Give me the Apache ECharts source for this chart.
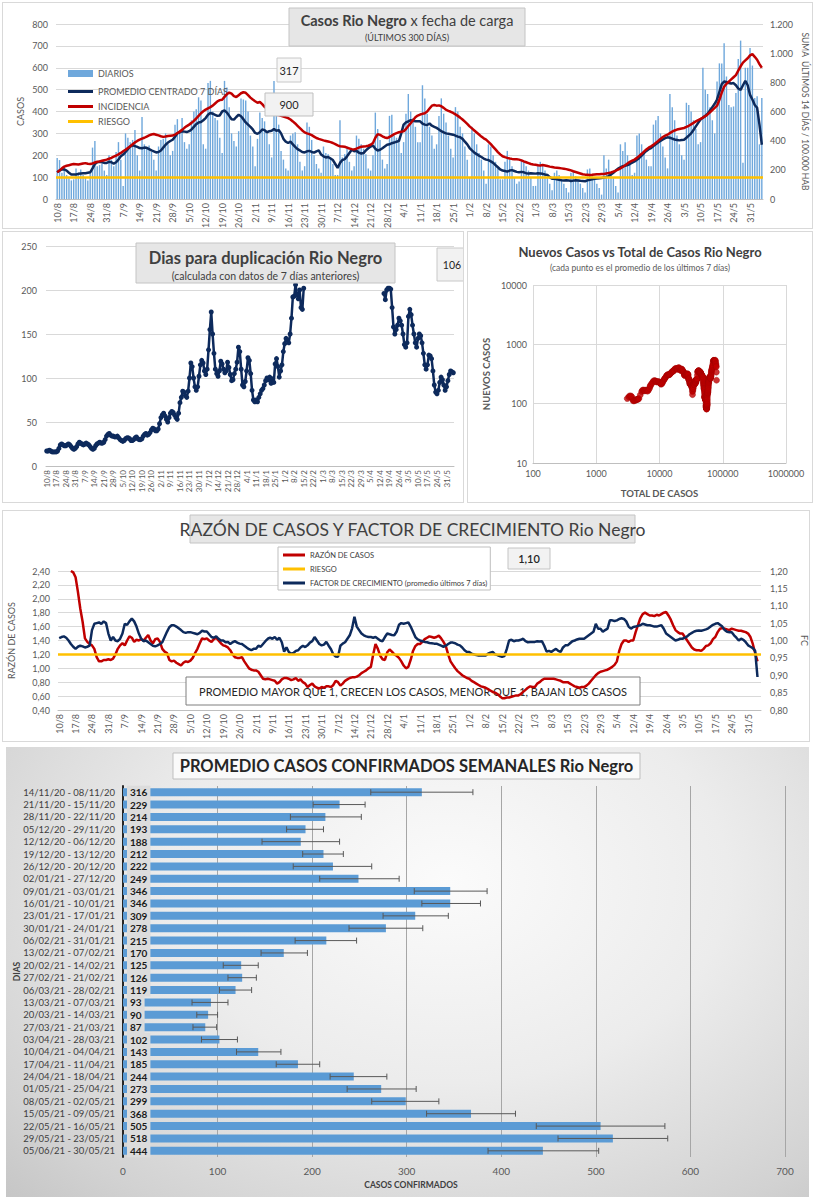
<!DOCTYPE html>
<html><head><meta charset="utf-8">
<script src="https://cdn.jsdelivr.net/npm/echarts@6/dist/echarts.min.js"></script>
<style>
body{margin:0;background:#fff;width:816px;height:1200px;position:relative;overflow:hidden;font-family:Lato}
.p{position:absolute;outline:1px solid #d9d9d9;background:#fff}
#c5{background:radial-gradient(ellipse at 55% 30%,#fbfbfb 0%,#ececec 45%,#d2d2d2 85%,#c6c6c6 100%);outline:none}
</style></head><body>
<div id="c1" class="p" style="left:3px;top:3px;width:809px;height:225px"></div>
<div id="c2" class="p" style="left:3px;top:232px;width:460px;height:270px"></div>
<div id="c3" class="p" style="left:468px;top:232px;width:344px;height:270px"></div>
<div id="c4" class="p" style="left:3px;top:511px;width:806px;height:230px"></div>
<div id="c5" class="p" style="left:6px;top:747px;width:803px;height:450px"></div>
<script>
// ---------- DATA ----------
const FECHA_INICIO = [2020, 7, 10];   // 10/8/2020
const N_DIAS = 300;
const DIAS = [];
for (let i = 0; i < N_DIAS; i++) { const d = new Date(Date.UTC(FECHA_INICIO[0], FECHA_INICIO[1], FECHA_INICIO[2] + i)); DIAS.push(d.getUTCDate() + '/' + (d.getUTCMonth() + 1)); }

const DIARIOS = [
188,178,120,150,110,95,85, 90,140,120,135,110,100,85, 120,235,265,150,155,160,130, 110,200,180,150,215,260,180,
60,300,280,260,270,315,200, 130,375,250,230,245,215,180, 130,240,270,275,300,250,200, 220,340,365,310,370,260,230,
250,360,400,410,465,450,250, 230,530,540,400,370,360,280, 210,540,510,420,300,265,240, 310,460,455,450,400,290,240,
150,275,395,370,355,300,250, 190,540,460,340,220,180,140, 130,290,300,305,250,170,130, 150,350,330,270,200,160,140,
120,240,210,205,190,160,110, 110,360,190,205,240,170,130, 150,290,275,250,230,205,140, 130,200,395,320,270,180,140,
160,380,385,290,280,260,210, 260,390,480,400,370,330,260, 260,520,460,390,330,290,230, 250,380,460,390,350,290,230,
190,420,400,330,300,240,180, 100,330,300,250,210,180,130, 70,250,240,200,170,140,90, 90,170,220,180,150,100,70,
80,180,170,150,130,100,60, 60,160,170,160,130,100,70, 40,120,130,110,90,70,50, 30,120,125,105,90,70,50,
30,135,140,105,90,70,50, 20,200,140,180,110,95,60, 30,250,220,260,200,160,110, 120,290,300,250,220,180,150,
150,340,360,380,300,240,190, 140,480,420,360,290,250,200, 180,440,430,400,360,320,250, 260,600,500,480,420,360,300,
537,620,620,712,560,430,420, 423,485,640,724,166,600,600, 690,610,462,470,250,462];

const PROMEDIO = [
122,130,135,135,130,120,112, 112,112,115,117,118,118,120, 122,140,160,168,170,168,165, 165,170,168,162,168,180,195,
203,215,228,240,245,242,238, 233,232,235,234,228,222,218, 213,215,222,235,248,258,265, 271,285,300,305,310,308,306,
310,318,330,342,350,352,360, 370,385,393,390,385,380,382, 400,405,395,380,365,363,375, 385,378,365,350,340,330,318,
302,298,305,318,315,305,310, 312,320,312,315,300,275,262, 256,262,250,238,228,222,215, 213,218,220,215,212,218,222,
203,195,190,192,185,178,160, 142,165,178,182,195,210,225, 218,220,212,208,210,222,232, 240,245,230,222,225,232,240,
248,250,255,258,262,265,300, 340,350,355,360,358,355,355, 355,345,340,338,345,335,330, 325,318,310,305,300,298,296,
294,290,285,282,275,262,250, 233,222,212,205,198,192,185, 180,178,172,165,155,145,135, 130,128,125,130,132,128,124,
122,124,122,118,117,118,117, 116,118,117,115,112,110,100, 93,92,90,88,86,85,86, 85,82,84,86,85,83,82,
81,85,88,90,92,94,95, 96,98,100,105,112,120,130, 139,145,150,152,155,160,166, 172,180,188,198,210,220,228,
233,242,250,258,266,272,278, 282,280,276,272,270,268,270, 271,280,290,300,315,332,348, 363,372,380,390,405,420,435,
455,490,525,537,535,530,528, 530,520,505,499,520,540,520, 476,455,430,417,340,248];

// suma últimos 14 días / 100.000 hab (eje derecho)
const INCIDENCIA = [
183,195,210,222,228,232,236, 240,238,236,240,244,246,242, 240,244,250,255,258,262,266, 270,276,282,290,298,306,316,
327,338,350,362,375,388,398, 407,414,420,428,436,442,446, 441,436,430,426,428,432,434, 435,442,452,462,474,488,500,
510,522,536,552,570,588,602, 613,622,630,640,655,670,678, 681,700,718,730,722,705,699, 712,725,732,728,712,695,682,
670,660,665,650,632,618,605, 590,582,578,575,570,565,560, 555,545,532,518,502,486,470, 457,450,445,438,428,418,412,
407,402,398,394,390,384,376, 368,362,360,358,352,346,342, 340,345,352,358,360,362,365, 372,384,420,445,440,430,422,
418,425,435,445,452,458,461, 464,480,500,520,540,560,572, 579,584,588,600,620,640,645, 640,642,636,625,612,604,598,
590,580,570,558,545,530,515, 498,484,470,456,442,428,416, 407,392,376,358,340,322,306, 293,287,282,278,275,273,272,
270,265,258,252,246,240,237, 235,232,230,233,230,226,222, 219,216,214,212,210,208,205, 201,196,190,185,180,175,170,
167,166,165,166,168,170,170, 171,172,175,178,182,188,194, 201,210,220,232,244,255,263, 270,282,296,310,325,340,352,
361,372,385,398,412,425,434, 441,452,462,470,476,480,484, 487,494,502,512,522,532,541, 549,558,568,580,595,610,625,
640,680,730,770,790,805,820, 835,850,880,910,935,950,965, 985,993,975,955,925,900];

const RIESGO_CASOS = 100;

const DUPLICACION = [
17,17,18,17,16,16,16, 16,17,20,24,25,24,23, 23,24,25,24,22,20,19, 20,22,25,27,26,25,24,
25,26,25,24,22,20,19, 20,23,25,26,27,26,26, 27,30,34,36,37,35,34, 34,33,33,34,32,30,29,
28,29,31,32,32,31,29, 29,30,32,33,31,30,30, 31,34,36,37,35,36,38, 41,43,42,40,40,42,48,
55,58,60,57,53,50,55, 60,62,61,58,55,53,60, 72,78,85,84,80,78,85, 100,117,113,100,90,86,90,
102,115,120,117,108,104,110, 132,155,175,150,128,110,105, 102,108,119,116,110,106,108, 118,112,104,97,98,105,110,
118,135,130,110,92,90,96, 108,123,120,105,86,75,73, 75,73,78,82,86,88,92, 97,100,98,101,94,99,95,
116,122,113,101,108,115,130, 139,145,143,140,150,168,192, 193,206,195,190,200,180,178, 202,null,null,null,null,null,null,
null,null,null,null,null,null,null, null,null,null,null,null,null,null, null,null,null,null,null,null,null, null,null,null,null,null,null,null,
null,null,null,null,null,null,null, null,null,null,null,null,null,null, null,null,null,null,null,null,null, null,null,null,196,189,200,202,
202,201,180,158,150,155,160, 168,165,160,150,138,135,140, 170,178,172,160,150,140,135, 145,150,148,140,128,115,110,
115,126,125,122,108,92,84, 82,86,95,101,98,92,86, 90,97,104,108,107,106];
const ULTIMO_DUPLICACION = '106';

const TOTAL_INICIAL = 2900;

const RAZON = [
null,null,null,null,null,2.40,2.38, 2.31,2.10,1.86,1.67,1.43,1.38,1.35, 1.33,1.28,1.16,1.10,1.10,1.12,1.12, 1.13,1.12,1.14,1.20,1.28,1.33,1.36,
1.33,1.40,1.46,1.44,1.38,1.41,1.40, 1.42,1.40,1.44,1.48,1.40,1.36,1.42, 1.43,1.38,1.28,1.24,1.22,1.12,1.10, 1.11,1.08,1.06,1.04,1.08,1.10,1.09,
1.11,1.15,1.22,1.28,1.36,1.43,1.42, 1.43,1.40,1.38,1.42,1.44,1.40,1.36, 1.33,1.32,1.30,1.26,1.20,1.16,1.15, 1.15,1.16,1.10,1.05,1.00,0.98,0.97,
0.97,0.95,0.90,0.85,0.84,0.85,0.84, 0.83,0.82,0.78,0.80,0.84,0.86,0.86, 0.85,0.83,0.84,0.86,0.82,0.84,0.80, 0.78,0.73,0.76,0.78,0.74,0.72,0.71,
0.73,0.72,0.74,0.74,0.73,0.76,0.82, 0.80,0.75,0.78,0.82,0.84,0.86,0.87, 0.87,0.88,0.90,0.93,0.95,0.97,1.00, 1.02,1.20,1.35,1.28,1.18,1.13,1.12,
1.23,1.27,1.24,1.20,1.18,1.15,1.10, 1.04,1.00,1.02,1.12,1.25,1.32,1.35, 1.35,1.38,1.42,1.44,1.46,1.45,1.44, 1.45,1.47,1.43,1.38,1.32,1.20,1.10,
1.05,1.00,0.96,0.93,0.90,0.88,0.86, 0.85,0.82,0.80,0.78,0.76,0.74,0.73, 0.72,0.70,0.68,0.66,0.65,0.63,0.60, 0.57,0.57,0.58,0.58,0.59,0.60,0.61,
0.61,0.63,0.66,0.69,0.72,0.74,0.73, 0.73,0.78,0.80,0.83,0.85,0.85,0.85, 0.85,0.85,0.84,0.83,0.82,0.80,0.80, 0.80,0.78,0.76,0.74,0.73,0.72,0.73,
0.73,0.75,0.78,0.82,0.86,0.90,0.93, 0.95,0.96,0.97,0.98,1.00,1.02,1.05, 1.10,1.25,1.35,1.40,1.40,1.38,1.40, 1.40,1.52,1.62,1.72,1.78,1.80,1.78,
1.76,1.76,1.75,1.77,1.76,1.78,1.80, 1.81,1.76,1.70,1.62,1.55,1.52,1.50, 1.50,1.45,1.40,1.35,1.30,1.27,1.26, 1.26,1.25,1.28,1.32,1.33,1.36,1.42,
1.45,1.52,1.57,1.58,1.57,1.56,1.55, 1.57,1.56,1.55,1.54,1.54,1.53,1.52, 1.50,1.45,1.35,1.22,1.10,null];

const FC = [
1.007,1.010,1.012,1.008,1.000,0.990,0.982, 0.976,0.982,0.985,0.983,0.980,0.982,0.985, 1.030,1.048,1.050,1.052,1.048,1.055,1.050, 1.020,1.000,1.010,1.000,0.998,1.005,1.020,
1.048,1.045,1.055,1.063,1.055,1.040,1.020, 1.005,0.998,1.000,0.995,0.990,0.985,0.983, 0.986,0.990,0.995,1.010,1.025,1.038,1.044, 1.044,1.040,1.035,1.030,1.024,1.022,1.024,
1.024,1.022,1.020,1.018,1.022,1.028,1.026, 1.026,1.018,1.010,1.008,1.012,1.005,1.000, 1.000,0.995,0.996,0.990,0.995,0.998,0.994, 0.991,0.990,0.985,0.980,0.975,0.972,0.976,
0.976,0.985,0.982,0.990,0.998,1.005,1.008, 1.005,1.010,1.002,1.008,0.995,0.968,0.980, 0.967,0.962,0.964,0.970,0.972,0.980,0.985, 0.981,0.986,0.994,0.998,1.010,1.000,0.990,
0.986,0.988,0.996,0.985,0.975,0.960,0.954, 0.953,0.985,0.991,0.995,1.005,1.015,1.035, 1.068,1.040,1.030,1.020,1.015,1.012,1.010, 1.010,1.008,1.010,1.005,1.000,0.998,1.010,
1.020,1.018,1.016,1.015,1.025,1.045,1.050, 1.048,1.050,1.052,1.040,1.025,1.010,1.003, 1.000,0.998,0.996,0.995,0.993,0.992,0.991, 0.991,0.988,0.985,0.982,0.985,0.990,0.994,
0.994,0.992,0.988,0.986,0.980,0.972,0.967, 0.967,0.962,0.960,0.958,0.957,0.957,0.957, 0.957,0.962,0.965,0.967,0.960,0.958,0.955, 0.953,0.955,0.975,1.000,1.002,0.998,1.000,
1.000,1.002,1.005,0.998,0.995,0.996,0.996, 0.996,0.998,0.997,0.998,0.985,0.968,0.970, 0.967,0.972,0.976,0.970,0.967,0.980,0.986, 0.986,0.992,0.998,1.000,1.003,1.005,1.005,
1.005,1.010,1.015,1.020,1.025,1.048,1.034, 1.034,1.025,1.030,1.034,1.058,1.058,1.056, 1.058,1.062,1.064,1.062,1.055,1.040,1.034, 1.039,1.040,1.042,1.044,1.048,1.046,1.044,
1.044,1.042,1.040,1.040,1.042,1.044,1.034, 1.020,1.015,1.010,1.005,1.000,1.002,1.005, 1.005,1.008,1.012,1.018,1.022,1.026,1.028, 1.029,1.028,1.030,1.032,1.035,1.040,1.045,
1.048,1.050,1.045,1.040,1.030,1.025,1.024, 1.024,1.015,1.008,1.000,1.005,1.002,0.995, 0.986,0.982,0.978,0.970,0.895,null];
const RIESGO_RAZON = 1.20;

const SEMANAS = ['14/11/20 - 08/11/20','21/11/20 - 15/11/20','28/11/20 - 22/11/20','05/12/20 - 29/11/20','12/12/20 - 06/12/20',
'19/12/20 - 13/12/20','26/12/20 - 20/12/20','02/01/21 - 27/12/20','09/01/21 - 03/01/21','16/01/21 - 10/01/21',
'23/01/21 - 17/01/21','30/01/21 - 24/01/21','06/02/21 - 31/01/21','13/02/21 - 07/02/21','20/02/21 - 14/02/21',
'27/02/21 - 21/02/21','06/03/21 - 28/02/21','13/03/21 - 07/03/21','20/03/21 - 14/03/21','27/03/21 - 21/03/21',
'03/04/21 - 28/03/21','10/04/21 - 04/04/21','17/04/21 - 11/04/21','24/04/21 - 18/04/21','01/05/21 - 25/04/21',
'08/05/21 - 02/05/21','15/05/21 - 09/05/21','22/05/21 - 16/05/21','29/05/21 - 23/05/21','05/06/21 - 30/05/21'];
const PROMEDIO_SEMANAL = [316,229,214,193,188,212,222,249,346,346,309,278,215,170,125,126,119,93,90,87,102,143,185,244,273,299,368,505,518,444];
const ERROR_BAJO = [262,201,177,173,147,190,180,208,308,316,275,239,182,146,106,111,102,73,78,74,83,120,162,219,237,263,321,437,460,386];
const ERROR_ALTO = [370,256,252,212,229,233,263,292,385,378,344,317,247,195,143,141,136,111,100,99,121,167,208,279,310,334,415,573,576,503];

// ---------- STYLE HELPERS ----------
const FONT = 'Lato';
const GRIS = '#595959';
const AZUL = '#0d2a5c', ROJO = '#c00000', AMARILLO = '#ffc000', CELESTE = '#6fa8dc';
function box(x, y, w, h, fill, stroke, z) {
  return {type: 'rect', z: z, shape: {x: x, y: y, width: w, height: h}, style: {fill: fill, stroke: stroke, lineWidth: 1}};
}
function txt(x, y, s, size, weight, color, z, rich) {
  const st = {text: s, x: 0, y: 0, fontSize: size, fontWeight: weight || 'normal', fontFamily: FONT, fill: color || '#404040',
    align: 'center', verticalAlign: 'middle', textAlign: 'center', textVerticalAlign: 'middle'};
  if (rich) st.rich = rich;
  return {type: 'text', z: z, x: x, y: y, style: st};
}
const miles = v => v >= 1000 ? Math.floor(v / 1000) + '.' + String(v % 1000).padStart(3, '0') : String(v);
const coma = v => Number(v).toFixed(2).replace('.', ',');
const dateAxis = (size) => ({
  type: 'category', data: DIAS, boundaryGap: true,
  axisLine: {lineStyle: {color: '#bfbfbf'}},
  axisTick: {interval: 6, lineStyle: {color: '#bfbfbf'}},
  axisLabel: {interval: 6, rotate: 90, fontSize: size, color: GRIS, fontFamily: FONT, margin: 4},
  splitLine: {show: false}
});
const R = {renderer: 'svg'};

// ---------- CHART 1 ----------
const c1 = echarts.init(document.getElementById('c1'), null, R);
c1.setOption({
  animation: false, textStyle: {fontFamily: FONT},
  grid: {left: 53, right: 49, top: 21, bottom: 29, outerBoundsMode: 'none'},
  legend: [
    {orient: 'vertical', left: 60, top: 61, itemWidth: 25, itemHeight: 7, itemGap: 6, selectedMode: false,
      textStyle: {fontSize: 9, color: GRIS, fontFamily: FONT}, data: [{name: 'DIARIOS', icon: 'rect'}]},
    {orient: 'vertical', left: 60, top: 79, itemWidth: 25, itemHeight: 3, itemGap: 6, selectedMode: false, icon: 'rect',
      textStyle: {fontSize: 9, color: GRIS, fontFamily: FONT}, data: ['PROMEDIO CENTRADO 7 DÍAS', 'INCIDENCIA', 'RIESGO']}
  ],
  xAxis: dateAxis(9),
  yAxis: [
    {type: 'value', min: 0, max: 800, interval: 100, name: 'CASOS', nameLocation: 'middle', nameGap: 31, nameRotate: 90, nameMoveOverlap: false,
      nameTextStyle: {fontSize: 9, color: GRIS, fontFamily: FONT},
      axisLabel: {fontSize: 9, color: GRIS, fontFamily: FONT, margin: 8},
      axisLine: {show: false}, axisTick: {show: false}, splitLine: {lineStyle: {color: '#d9d9d9'}}},
    {type: 'value', min: 0, max: 1200, interval: 200, position: 'right', name: 'SUMA  ÚLTIMOS 14 DÍAS / 100.000 HAB', nameMoveOverlap: false,
      nameLocation: 'middle', nameGap: 37, nameRotate: -90, nameTextStyle: {fontSize: 8.5, color: GRIS, fontFamily: FONT},
      axisLabel: {fontSize: 9, color: GRIS, fontFamily: FONT, margin: 7, formatter: miles},
      axisLine: {show: false}, axisTick: {show: false}, splitLine: {show: false}}
  ],
  series: [
    {name: 'DIARIOS', type: 'bar', data: DIARIOS, barCategoryGap: '40%', itemStyle: {color: CELESTE}, z: 2},
    {name: 'RIESGO', type: 'line', data: [], symbol: 'none', itemStyle: {color: AMARILLO}, lineStyle: {color: AMARILLO, width: 3}, z: 3,
      markLine: {silent: true, symbol: 'none', label: {show: false}, lineStyle: {color: AMARILLO, width: 2.5, type: 'solid'}, data: [{yAxis: RIESGO_CASOS}]}},
    {name: 'PROMEDIO CENTRADO 7 DÍAS', type: 'line', data: PROMEDIO, symbol: 'none', itemStyle: {color: AZUL}, lineStyle: {color: AZUL, width: 2.5}, z: 4},
    {name: 'INCIDENCIA', type: 'line', yAxisIndex: 1, data: INCIDENCIA, symbol: 'none', itemStyle: {color: ROJO}, lineStyle: {color: ROJO, width: 2.5}, z: 5}
  ],
  graphic: [
    box(286, 5, 236, 38, '#e6e6e6', '#c4c4c4', 20),
    txt(404, 17, '{b|Casos Rio Negro} {n|x fecha de carga}', 14.5, 'normal', '#404040', 21,
      {b: {fontSize: 14.5, fontWeight: 'bold', fill: '#404040', fontFamily: FONT}, n: {fontSize: 14.5, fill: '#404040', fontFamily: FONT}}),
    txt(404, 34, '(ÚLTIMOS 300 DÍAS)', 9, 'normal', '#404040', 21),
    box(274, 55, 24, 24, '#f7f7f7', '#c8c8c8', 20),
    txt(286, 67, '317', 11, 'normal', '#262626', 21),
    box(262, 90, 48, 23, '#f2f2f2', '#bfbfbf', 20),
    txt(286, 101.5, '900', 11, 'normal', '#262626', 21)
  ]
});

// ---------- CHART 2 ----------
const c2 = echarts.init(document.getElementById('c2'), null, R);
c2.setOption({
  animation: false, textStyle: {fontFamily: FONT},
  grid: {left: 43, right: 9, top: 14, bottom: 36, outerBoundsMode: 'none'},
  xAxis: dateAxis(8),
  yAxis: {type: 'value', min: 0, max: 250, interval: 50,
    axisLabel: {fontSize: 9, color: GRIS, fontFamily: FONT, margin: 9},
    axisLine: {show: false}, axisTick: {show: false}, splitLine: {lineStyle: {color: '#d9d9d9'}}},
  series: [{type: 'line', data: DUPLICACION, symbol: 'circle', symbolSize: 5, showSymbol: true, showAllSymbol: true, connectNulls: false,
    itemStyle: {color: AZUL}, lineStyle: {color: AZUL, width: 2.5}}],
  graphic: [
    box(133, 11, 259, 40, '#e6e6e6', '#c4c4c4', 20),
    txt(262.5, 26, 'Dias para duplicación Rio Negro', 16.5, 'bold', '#404040', 21),
    txt(262.5, 44, '(calculada con datos de 7 días anteriores)', 10.5, 'normal', '#404040', 21),
    box(434, 16, 30, 33, '#f2f2f2', '#c8c8c8', 20),
    txt(449, 32.5, ULTIMO_DUPLICACION, 10.5, 'normal', '#262626', 21)
  ]
});

// ---------- CHART 3 ----------
let acumulado = TOTAL_INICIAL;
const PUNTOS = DIARIOS.map((d, i) => { acumulado += d; return [acumulado, PROMEDIO[i]]; });
const c3 = echarts.init(document.getElementById('c3'), null, R);
const logLbl = v => String(Math.round(v));
c3.setOption({
  animation: false, textStyle: {fontFamily: FONT},
  grid: {left: 65, right: 26, top: 53, bottom: 39, outerBoundsMode: 'none'},
  xAxis: {type: 'log', logBase: 10, min: 100, max: 1000000, name: 'TOTAL DE CASOS', nameLocation: 'middle', nameGap: 25, nameMoveOverlap: false,
    nameTextStyle: {fontSize: 9.5, fontWeight: 'bold', color: GRIS, fontFamily: FONT},
    axisLabel: {fontSize: 9, color: GRIS, fontFamily: FONT, formatter: logLbl, margin: 6},
    axisLine: {lineStyle: {color: '#bfbfbf'}}, axisTick: {show: false}, splitLine: {show: true, lineStyle: {color: '#d9d9d9'}}},
  yAxis: {type: 'log', logBase: 10, min: 10, max: 10000, name: 'NUEVOS CASOS', nameLocation: 'middle', nameGap: 42, nameRotate: 90, nameMoveOverlap: false,
    nameTextStyle: {fontSize: 9.5, fontWeight: 'bold', color: GRIS, fontFamily: FONT},
    axisLabel: {fontSize: 9, color: GRIS, fontFamily: FONT, formatter: logLbl, margin: 6},
    axisLine: {show: false}, axisTick: {show: false}, splitLine: {show: true, lineStyle: {color: '#d9d9d9'}}},
  series: [{type: 'scatter', data: PUNTOS, symbolSize: 6, itemStyle: {color: ROJO, borderColor: '#a00000', borderWidth: 0.5}}],
  graphic: [
    txt(172, 20, 'Nuevos Casos vs Total de Casos Rio Negro', 13, 'bold', '#404040', 21),
    txt(172, 36, '(cada punto es el promedio de los últimos 7 días)', 8.5, 'normal', GRIS, 21)
  ]
});

// ---------- CHART 4 ----------
const c4 = echarts.init(document.getElementById('c4'), null, R);
c4.setOption({
  animation: false, textStyle: {fontFamily: FONT},
  grid: {left: 55, right: 48, top: 60, bottom: 31, outerBoundsMode: 'none'},
  legend: {orient: 'vertical', left: 275, top: 36, itemWidth: 22, itemHeight: 3, itemGap: 6, selectedMode: false, icon: 'rect',
    padding: [4, 3, 3, 5], borderColor: '#bfbfbf', borderWidth: 1, backgroundColor: '#ffffff',
    textStyle: {fontSize: 7.5, color: '#404040', fontFamily: FONT},
    data: ['RAZÓN DE CASOS', 'RIESGO', 'FACTOR DE CRECIMIENTO (promedio últimos 7 días)']},
  xAxis: dateAxis(9),
  yAxis: [
    {type: 'value', min: 0.4, max: 2.4, interval: 0.2, name: 'RAZÓN DE CASOS', nameLocation: 'middle', nameGap: 42, nameRotate: 90, nameMoveOverlap: false,
      nameTextStyle: {fontSize: 9, color: GRIS, fontFamily: FONT},
      axisLabel: {fontSize: 9, color: GRIS, fontFamily: FONT, formatter: coma, margin: 8},
      axisLine: {show: false}, axisTick: {show: false}, splitLine: {lineStyle: {color: '#d9d9d9'}}},
    {type: 'value', min: 0.8, max: 1.2, interval: 0.05, position: 'right', name: 'FC', nameLocation: 'middle', nameGap: 39, nameRotate: -90, nameMoveOverlap: false,
      nameTextStyle: {fontSize: 9, color: GRIS, fontFamily: FONT},
      axisLabel: {fontSize: 9, color: GRIS, fontFamily: FONT, formatter: coma, margin: 9},
      axisLine: {show: false}, axisTick: {show: false}, splitLine: {show: false}}
  ],
  series: [
    {name: 'RAZÓN DE CASOS', type: 'line', data: RAZON, symbol: 'none', itemStyle: {color: ROJO}, lineStyle: {color: ROJO, width: 2.5}, z: 3},
    {name: 'FACTOR DE CRECIMIENTO (promedio últimos 7 días)', type: 'line', yAxisIndex: 1, data: FC, symbol: 'none',
      itemStyle: {color: AZUL}, lineStyle: {color: AZUL, width: 2.5}, z: 4},
    {name: 'RIESGO', type: 'line', data: [], symbol: 'none', itemStyle: {color: AMARILLO}, lineStyle: {color: AMARILLO, width: 2.5}, z: 5,
      markLine: {silent: true, symbol: 'none', label: {show: false}, lineStyle: {color: AMARILLO, width: 2.5, type: 'solid'}, data: [{yAxis: RIESGO_RAZON}]}}
  ],
  graphic: [
    box(187, 4, 445, 28, '#e6e6e6', '#c4c4c4', 20),
    txt(409.5, 18, 'RAZÓN DE CASOS Y FACTOR DE CRECIMIENTO Rio Negro', 17.5, 'normal', '#404040', 21),
    box(505, 37, 42, 21, '#f2f2f2', '#c4c4c4', 20),
    txt(526, 47.5, '1,10', 11, '600', '#262626', 21),
    box(183, 166, 454, 28, '#ffffff', '#7f7f7f', 1),
    txt(410, 180, 'PROMEDIO MAYOR QUE 1, CRECEN LOS CASOS, MENOR QUE 1, BAJAN LOS CASOS', 11, 'normal', '#262626', 1)
  ]
});

// ---------- CHART 5 ----------
const c5 = echarts.init(document.getElementById('c5'), null, R);
c5.setOption({
  animation: false, textStyle: {fontFamily: FONT},
  grid: {left: 117, right: 24, top: 39, bottom: 40, outerBoundsMode: 'none'},
  xAxis: {type: 'value', min: 0, max: 700, interval: 100,
    axisLabel: {fontSize: 10, color: GRIS, fontFamily: FONT, margin: 9},
    axisLine: {show: false}, axisTick: {show: false}, splitLine: {lineStyle: {color: '#a6a6a6'}}},
  yAxis: {type: 'category', data: SEMANAS, inverse: true, name: 'DIAS', nameLocation: 'middle', nameGap: 102, nameRotate: 90, nameMoveOverlap: false,
    nameTextStyle: {fontSize: 8.5, fontWeight: 'bold', color: '#404040', fontFamily: FONT},
    axisLine: {lineStyle: {color: '#262626', width: 2}}, axisTick: {show: false},
    axisLabel: {interval: 0, fontSize: 9.5, color: '#404040', fontFamily: FONT, margin: 8}},
  series: [
    {type: 'bar', data: PROMEDIO_SEMANAL, barWidth: 8, itemStyle: {color: '#5b9bd5'},
      label: {show: true, position: 'insideLeft', distance: 4, fontSize: 10, fontWeight: 'bold', color: '#1a1a1a', fontFamily: FONT,
        backgroundColor: '#dcdcdc', padding: [2, 3, 1, 3]}},
    {type: 'custom', data: ERROR_BAJO.map((lo, i) => [i, lo, ERROR_ALTO[i]]), encode: {x: [1, 2], y: 0}, z: 5,
      renderItem: function (params, api) {
        const c = api.value(0), a = api.coord([api.value(1), c]), b = api.coord([api.value(2), c]);
        const s = {stroke: '#595959', lineWidth: 1};
        return {type: 'group', children: [
          {type: 'line', shape: {x1: a[0], y1: a[1], x2: b[0], y2: b[1]}, style: s},
          {type: 'line', shape: {x1: a[0], y1: a[1] - 3, x2: a[0], y2: a[1] + 3}, style: s},
          {type: 'line', shape: {x1: b[0], y1: b[1] - 3, x2: b[0], y2: b[1] + 3}, style: s}
        ]};
      }}
  ],
  graphic: [
    box(167, 6, 467, 26, '#fafafa', '#bfbfbf', 20),
    txt(400.5, 19, 'PROMEDIO CASOS CONFIRMADOS SEMANALES Rio Negro', 16.5, 'bold', '#262626', 21),
    txt(405, 438, 'CASOS CONFIRMADOS', 8.5, 'bold', '#404040', 21)
  ]
});
</script>
</body></html>
